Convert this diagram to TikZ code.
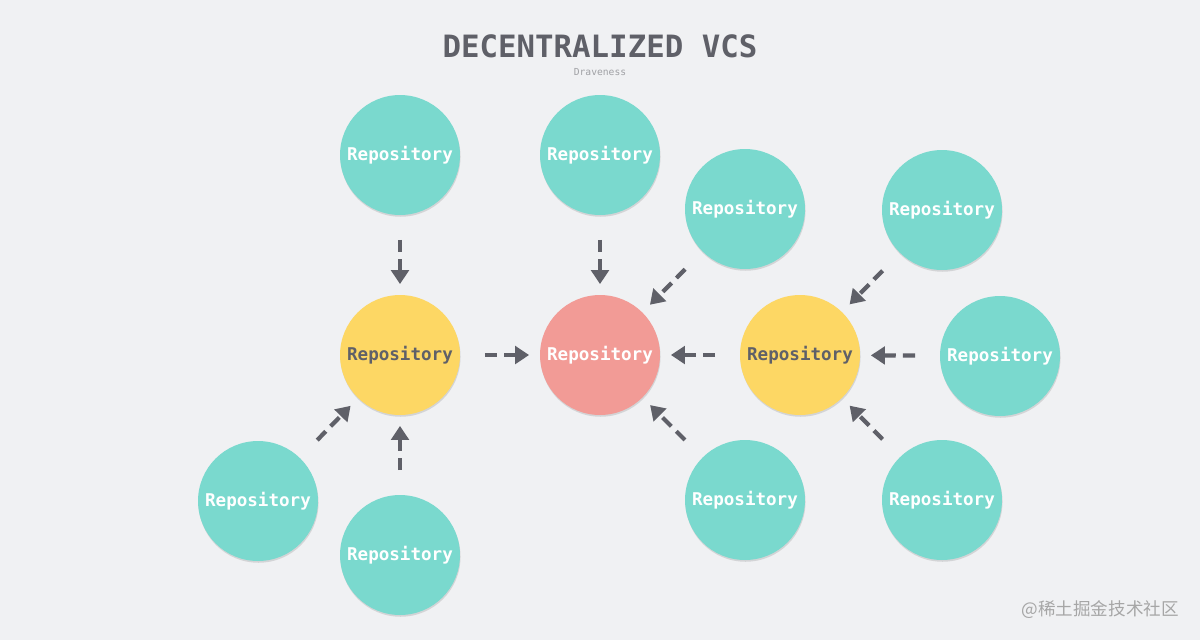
\documentclass[tikz,border=0pt]{standalone}
\usepackage{fontspec}
\setmonofont{DejaVu Sans Mono}
\newfontfamily\cjk{Noto Sans CJK SC}
\usetikzlibrary{arrows.meta,shadows}
\definecolor{bg}{HTML}{F0F1F3}
\definecolor{teal}{HTML}{7AD9CE}
\definecolor{yel}{HTML}{FDD764}
\definecolor{redc}{HTML}{F29B96}
\definecolor{ar}{HTML}{5F6068}
\begin{document}
\begin{tikzpicture}[x=0.02cm,y=-0.02cm,
  repo/.style={circle,minimum size=2.4cm,inner sep=0pt,font=\ttfamily\bfseries\fontsize{10}{12}\selectfont,text=white,
    drop shadow={shadow xshift=0.3pt,shadow yshift=-1pt,opacity=0.25}},
  tl/.style={repo,fill=teal},
  yl/.style={repo,fill=yel,text=ar},
  rd/.style={repo,fill=redc},
  arr/.style={draw=ar,line width=2.4pt,dash pattern=on 7pt off 4pt,-{Triangle[length=8pt,width=10pt]},shorten <=14pt,shorten >=6pt}]
\fill[bg] (0,0) rectangle (1200,640);
\node[text=ar,font=\ttfamily\bfseries\fontsize{17.5}{20}\selectfont] (t) at (600,46) {DECENTRALIZED VCS};
\node[text=ar!60,font=\ttfamily\fontsize{5.5}{7}\selectfont] (s) at (600,72) {Draveness};
\node[tl] (A) at (400,155) {Repository};
\node[tl] (B) at (600,155) {Repository};
\node[tl] (C) at (745,209) {Repository};
\node[tl] (D) at (942,210) {Repository};
\node[tl] (E) at (1000,356) {Repository};
\node[tl] (F) at (942,500) {Repository};
\node[tl] (G) at (745,500) {Repository};
\node[tl] (H) at (258,501) {Repository};
\node[tl] (I) at (400,555) {Repository};
\node[yl] (L) at (400,355) {Repository};
\node[rd] (M) at (600,355) {Repository};
\node[yl] (R) at (800,355) {Repository};
\foreach \a/\b in {A/L,H/L,I/L,L/M,B/M,C/M,G/M,R/M,D/R,E/R,F/R}
  \draw[arr] (\a) -- (\b);
\node[text=black!35,font=\cjk\fontsize{10}{12}\selectfont,anchor=east] (w) at (1185,610) {@稀土掘金技术社区};
\end{tikzpicture}
\end{document}
